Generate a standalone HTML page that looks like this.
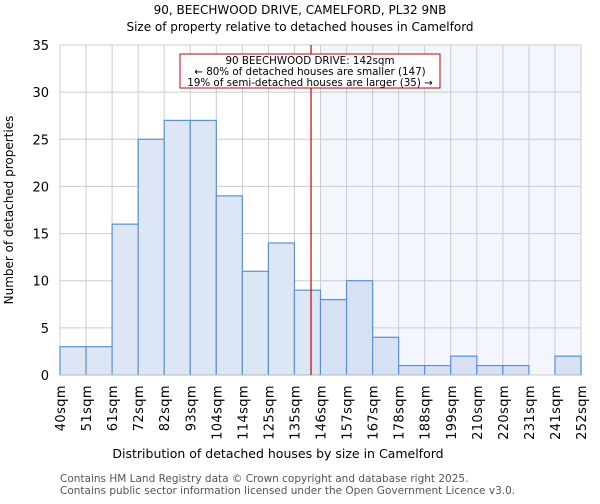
<!DOCTYPE html>
<html><head><meta charset="utf-8"><style>
body{margin:0;background:#fff;font-family:"DejaVu Sans","Liberation Sans",sans-serif;}
</style></head><body>
<svg id="c" width="600" height="500" xmlns="http://www.w3.org/2000/svg" font-family="DejaVu Sans, Liberation Sans, sans-serif">
<text x="300" y="14" text-anchor="middle" font-size="12">90, BEECHWOOD DRIVE, CAMELFORD, PL32 9NB</text>
<text x="300" y="31" text-anchor="middle" font-size="12">Size of property relative to detached houses in Camelford</text>
<g id="plot"></g>
<text x="278" y="458" text-anchor="middle" font-size="12.5">Distribution of detached houses by size in Camelford</text>
<text transform="translate(13,210) rotate(-90)" text-anchor="middle" font-size="12">Number of detached properties</text>
<text x="60" y="482" font-size="10.5" fill="#555">Contains HM Land Registry data © Crown copyright and database right 2025.</text>
<text x="60" y="494" font-size="10.5" fill="#555">Contains public sector information licensed under the Open Government Licence v3.0.</text>
</svg>
<script>
const categories=["40sqm","51sqm","61sqm","72sqm","82sqm","93sqm","104sqm","114sqm","125sqm","135sqm","146sqm","157sqm","167sqm","178sqm","188sqm","199sqm","210sqm","220sqm","231sqm","241sqm","252sqm"];
const counts=[3,3,16,25,27,27,19,11,14,9,8,10,4,1,1,2,1,1,0,2];
const yTicks=[0,5,10,15,20,25,30,35];
const propertySize=142;
const binStarts=[40,51,61,72,82,93,104,114,125,135,146,157,167,178,188,199,210,220,231,241,252];
const NS="http://www.w3.org/2000/svg";
const L=60,R=581,T=45,B=375,yMax=35;
const bw=(R-L)/counts.length;
const xi=i=>L+i*bw;
const y=v=>B-(v/yMax)*(B-T);
function xv(v){for(let i=0;i<binStarts.length-1;i++){if(v>=binStarts[i]&&v<=binStarts[i+1])return xi(i)+bw*(v-binStarts[i])/(binStarts[i+1]-binStarts[i]);}return R;}
const g=document.getElementById('plot');
function el(t,a){const e=document.createElementNS(NS,t);for(const k in a)e.setAttribute(k,a[k]);g.appendChild(e);return e;}
const px=xv(propertySize);
let firstRight=binStarts.findIndex(b=>b>=propertySize);
let sh=el('rect',{x:xi(firstRight),y:T,width:R-xi(firstRight),height:B-T,fill:'#f3f6fd'});


for(let i=0;i<=counts.length;i++){let l=el('line',{x1:xi(i),x2:xi(i),y1:T,y2:B,stroke:'#ccc','stroke-width':1});

}
yTicks.forEach(t=>{let l=el('line',{x1:L,x2:R,y1:y(t),y2:y(t),stroke:'#ccc','stroke-width':1});


let tx=el('text',{x:L-11,y:y(t)+5,'text-anchor':'end','font-size':13});tx.textContent=t;

});
counts.forEach((c,i)=>{if(c<=0)return;let r=el('rect',{x:xi(i),y:y(c),width:bw,height:B-y(c),fill:i>=firstRight?'#d6e2f4':'#dce6f4',stroke:'#5b8fd6','stroke-width':1.2});

});
categories.forEach((c,i)=>{let tx=el('text',{transform:`translate(${xi(i)+5},${B+10}) rotate(-90)`,'text-anchor':'end','font-size':13,'letter-spacing':'0.4'});tx.textContent=c;

});
let ax=el('line',{x1:L,x2:R,y1:B,y2:B,stroke:'#ccc','stroke-width':1});


let ml=el('line',{x1:px,x2:px,y1:T,y2:B,stroke:'#cc0000','stroke-width':1.2});


let bx=el('rect',{x:180,y:54,width:260,height:34,fill:'#fff',stroke:'#cc0000','stroke-width':1});


["90 BEECHWOOD DRIVE: 142sqm","← 80% of detached houses are smaller (147)","19% of semi-detached houses are larger (35) →"].forEach((s,i)=>{let tx=el('text',{x:310,y:64+i*11,'text-anchor':'middle','font-size':10.3});tx.textContent=s;

});
</script>
</body></html>
